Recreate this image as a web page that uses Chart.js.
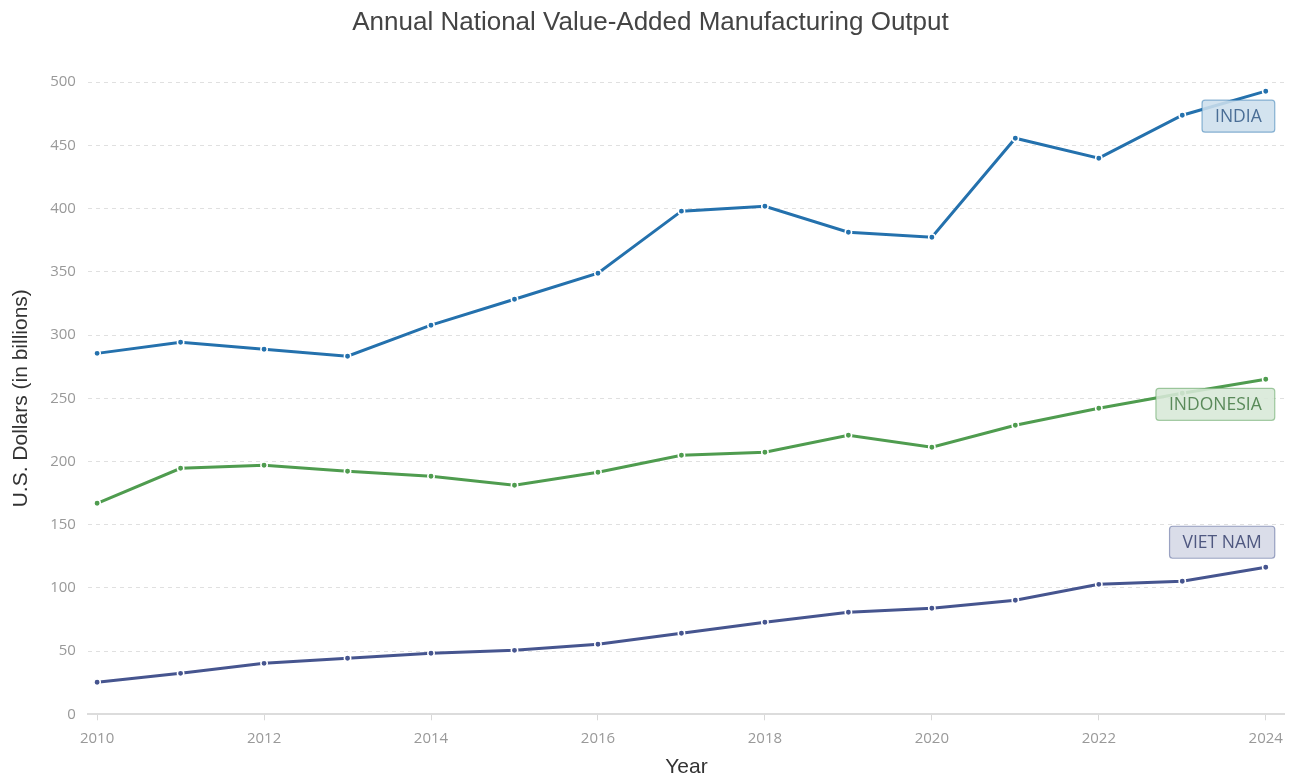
<!DOCTYPE html>
<html>
<head>
<meta charset="utf-8">
<script src="https://cdn.jsdelivr.net/npm/chart.js@4.4.1/dist/chart.umd.min.js"></script>
<style>
html,body{margin:0;padding:0;background:#fff;}
#wrap{width:1292px;height:775px;position:relative;}
</style>
</head>
<body>
<div id="wrap"><canvas id="c" width="1292" height="775"></canvas></div>
<script>
const years = [2010,2011,2012,2013,2014,2015,2016,2017,2018,2019,2020,2021,2022,2023,2024];
const india = [285.5,294.3,288.8,283.2,307.8,328.3,348.9,398,401.9,381.3,377.4,455.7,439.9,473.9,492.9];
const indonesia = [166.9,194.6,197,192.2,188.3,181.2,191.5,204.9,207.3,220.7,211.2,228.6,242.1,254,265];
const vietnam = [25.3,32.4,40.3,44.3,48.3,50.6,55.4,64.1,72.8,80.7,83.9,90.2,102.8,105.2,116.3];
const seriesNames = ['INDIA','INDONESIA','VIET NAM'];
const xTicks = [2010,2012,2014,2016,2018,2020,2022,2024];
const yTicks = [0,50,100,150,200,250,300,350,400,450,500];

const colors = ['#2471ad','#4f9c4f','#46558f'];
const labelFill = ['rgba(36,113,173,0.2)','rgba(79,156,79,0.2)','rgba(70,85,143,0.2)'];
const labelText = ['#4a6e96','#5a8a5a','#4f5880'];
const labelOffset = [25,25,-25];

function toPts(arr){ return arr.map((v,i)=>({x:years[i], y:v})); }

const endLabels = {
  id:'endLabels',
  afterDatasetsDraw(chart){
    const ctx = chart.ctx;
    const xs = chart.scales.x, ys = chart.scales.y;
    ctx.save();
    ctx.font = '17.5px "Open Sans"';
    chart.data.datasets.forEach((ds,i)=>{
      const last = ds.data[ds.data.length-1];
      const px = xs.getPixelForValue(last.x);
      const py = ys.getPixelForValue(last.y) + labelOffset[i];
      const tw = ctx.measureText(seriesNames[i]).width;
      const w = tw + 26, h = 32;
      const right = px + 9;
      const left = right - w;
      const top = py - h/2;
      ctx.beginPath();
      ctx.roundRect(left, top, w, h, 3);
      ctx.fillStyle = 'rgba(255,255,255,0.85)';
      ctx.fill();
      ctx.fillStyle = labelFill[i];
      ctx.fill();
      ctx.lineWidth = 1.2;
      ctx.strokeStyle = colors[i] + '80';
      ctx.stroke();
      ctx.fillStyle = labelText[i];
      ctx.textAlign = 'center';
      ctx.textBaseline = 'middle';
      ctx.fillText(seriesNames[i], left + w/2, py+1);
    });
    ctx.restore();
  }
};

const datasets = [india, indonesia, vietnam].map((arr,i)=>({
  label: seriesNames[i],
  data: toPts(arr),
  borderColor: colors[i],
  backgroundColor: colors[i],
  borderWidth: 3,
  pointRadius: 3.2,
  pointBackgroundColor: colors[i],
  pointBorderColor: '#fff',
  pointBorderWidth: 1.5,
  tension: 0
}));

new Chart(document.getElementById('c'), {
  type: 'line',
  data: { datasets },
  plugins: [endLabels],
  options: {
    responsive: false,
    animation: false,
    layout: { padding: { left: 9, right: 0, top: 0, bottom: 0 } },
    plugins: {
      legend: { display: false },
      tooltip: { enabled: false },
      title: {
        display: true,
        text: 'Annual National Value-Added Manufacturing Output',
        color: '#444',
        font: { family: '"Liberation Sans", Arial, sans-serif', size: 26, weight: 'normal', lineHeight: 1.2 },
        padding: { top: 7, bottom: 44 }
      }
    },
    scales: {
      x: {
        type: 'linear',
        min: 2009.89,
        max: 2024.23,
        afterBuildTicks: (axis) => { axis.ticks = xTicks.map(v=>({value:v})); },
        ticks: {
          color: '#999',
          font: { family: '"Open Sans"', size: 15 },
          padding: 9,
          callback: (v)=>String(v),
          maxRotation: 0
        },
        grid: { drawOnChartArea: false, drawTicks: true, tickLength: 6, color: '#d8d8d8' },
        border: { display: true, color: '#dcdcdc', width: 2 },
        title: {
          display: true, text: 'Year', color: '#333',
          font: { family: '"Liberation Sans", Arial, sans-serif', size: 21, lineHeight: 0.7 },
          padding: { top: 4, bottom: 0 }
        }
      },
      y: {
        min: 0, max: 500,
        afterBuildTicks: (axis) => { axis.ticks = yTicks.map(v=>({value:v})); },
        ticks: {
          color: '#999',
          font: { family: '"Open Sans"', size: 15 },
          padding: 12
        },
        grid: { drawTicks: false, color: '#e0e0e0', lineWidth: 1 },
        border: { display: false, dash: [4,4] },
        title: {
          display: true, text: 'U.S. Dollars (in billions)', color: '#333',
          font: { family: '"Liberation Sans", Arial, sans-serif', size: 21, lineHeight: 1.2 },
          padding: { top: 0, bottom: 4 }
        }
      }
    }
  }
});
</script>
</body>
</html>
